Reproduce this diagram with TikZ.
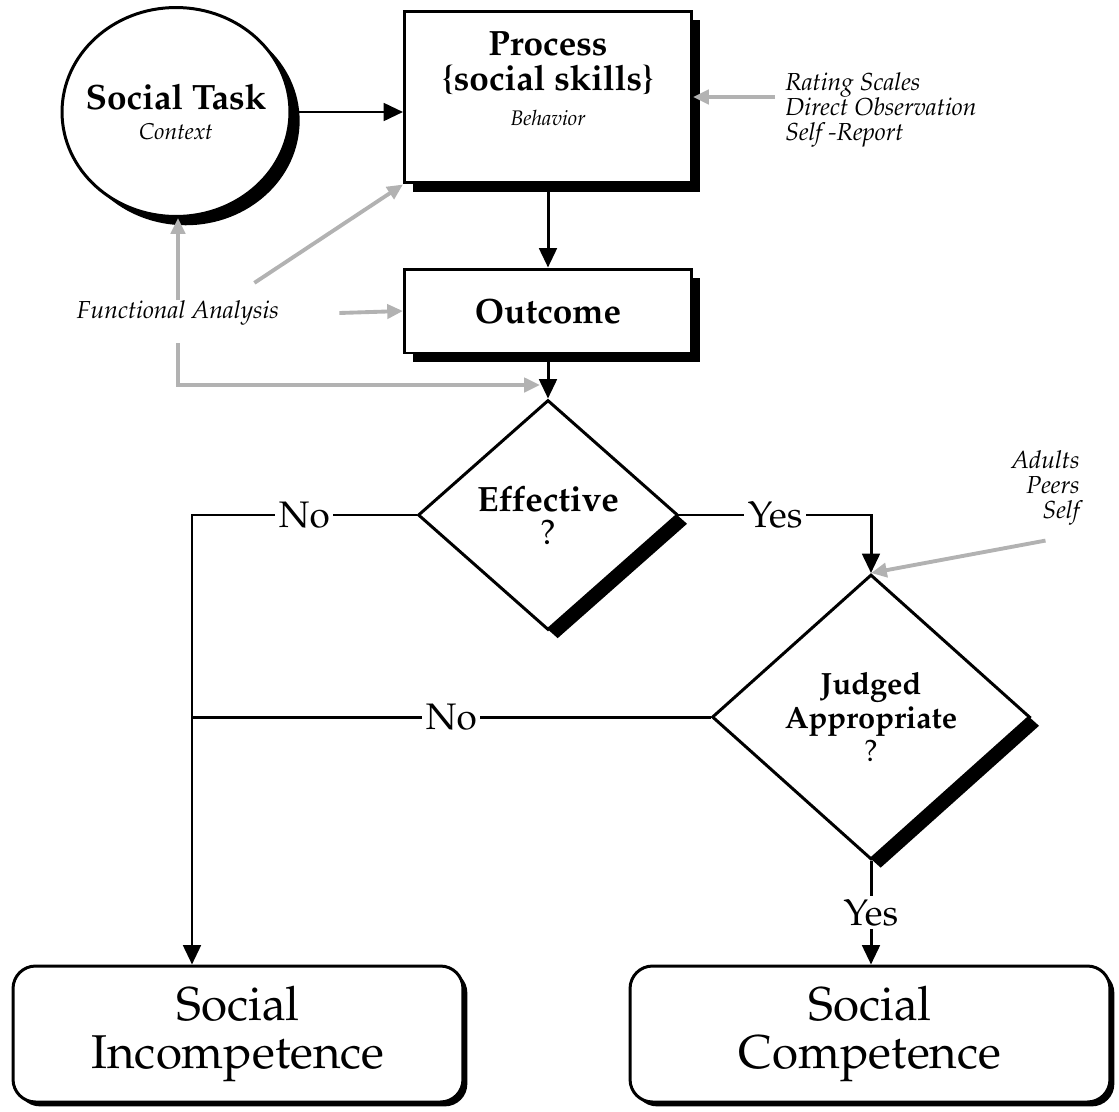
\documentclass[tikz,border=0pt]{standalone}
\usepackage[T1]{fontenc}
\renewcommand{\rmdefault}{ppl}
\usetikzlibrary{shapes.geometric,shadows,arrows.meta}

\tikzset{
	box/.style={draw, line width=1.7pt, fill=white, inner sep=0pt,
		drop shadow={shadow xshift=5pt, shadow yshift=-5pt, fill=black, opacity=1}},
	taskshape/.style={ellipse, draw, line width=1.7pt, fill=white, inner sep=0pt,
		minimum width=4.56cm, minimum height=4.18cm,
		drop shadow={shadow xshift=5.5pt, shadow yshift=-5pt, fill=black, opacity=1}},
	query/.style={diamond, draw, line width=1.7pt, fill=white, inner sep=0pt,
		drop shadow={shadow xshift=5.5pt, shadow yshift=-5pt, fill=black, opacity=1}},
	result/.style={draw, line width=1.7pt, fill=white, rounded corners=0.45cm, align=center,
		minimum height=2.72cm, font=\fontsize{27}{27}\selectfont,
		drop shadow={shadow xshift=2.5pt, shadow yshift=-2.5pt, fill=black, opacity=1}},
	method/.style={font=\fontsize{14}{14.2}\selectfont\itshape, inner sep=0pt},
	flow/.style={line width=1.7pt, -{Triangle[length=11pt,width=10pt]}},
	link/.style={line width=1.7pt},
	feed/.style={draw=gray!60, line width=2.2pt, -{Triangle[length=9pt,width=8pt]}},
	answer/.style={fill=white, inner sep=2pt, font=\fontsize{21}{21}\selectfont}
}

\begin{document}
\begin{tikzpicture}[x=0.02cm, y=-0.02cm]
	\useasboundingbox (0,0) rectangle (1119,1112);

	% boxes of the process
	\node[taskshape] (task) at (176,112) {};
	\node[align=center, inner sep=0pt, font=\fontsize{20}{17}\selectfont\bfseries] (tasktext) at (task.center)
		{Social Task\\{\fontsize{13}{13}\selectfont\mdseries\itshape Context}};
	\node[box, minimum width=5.74cm, minimum height=3.44cm] (process) at (548,97) {};
	\node[align=center, inner sep=0pt, font=\fontsize{20}{19.8}\selectfont\bfseries] (proctext) at ([yshift=0.36cm]process.center)
		{Process\\\{social skills\}\\{\fontsize{12}{12}\selectfont\mdseries\itshape Behavior}};
	\node[box, minimum width=5.74cm, minimum height=1.68cm,
		font=\fontsize{20}{24}\selectfont\bfseries] (outcome) at (548,311) {Outcome};
	\node[query, minimum width=5.2cm, minimum height=4.6cm, align=center,
		font=\fontsize{20}{18.7}\selectfont\bfseries] (effective) at (548,515) {Effective\\{\mdseries ?}};
	\node[query, minimum width=6.36cm, minimum height=5.7cm, align=center,
		font=\fontsize{17.5}{19}\selectfont\bfseries] (judged) at (871,717) {Judged\\Appropriate\\{\mdseries ?}};
	\node[result, minimum width=9.0cm] (incomp) at (238,1034) {Social\\Incompetence};
	\node[result, minimum width=9.6cm] (comp) at (870,1034) {Social\\Competence};

	% assessment methods
	\node[method, align=left, anchor=west] (measures) at (785,110) {Rating Scales\\Direct Observation\\Self -Report};
	\node[method] (funcan) at (178,313) {Functional Analysis};
	\node[method, align=right, anchor=east] (judges) at (1080,488) {Adults\\Peers\\Self};
	\coordinate (fajoin) at (540,385);
	\coordinate (nobranch) at (192,515);

	% main flow
	\draw[flow] (task.east) -- (task.east -| process.west);
	\draw[flow] (process.south) -- (outcome.north);
	\draw[flow] (outcome.south) -- (effective.north);
	\draw[flow] (effective.east) -- node[answer]{Yes} (effective.east -| judged.north) -- (judged.north);
	\draw[flow] (effective.west) -- node[answer]{No} (nobranch) -- (nobranch |- incomp.north);
	\draw[link] (judged.west) -- node[answer]{No} (judged.west -| nobranch);
	\draw[flow] (judged.south) -- node[answer]{Yes} (judged.south |- comp.north);

	% where the methods apply
	\draw[feed] ([xshift=-0.2cm]measures.west |- process.east) -- (process.east);
	\draw[feed] (funcan.north) -- (funcan.north |- task.south);
	\draw[feed] ([xshift=-0.5cm, yshift=0.35cm]funcan.north east) -- (process.south west);
	\draw[feed] ([xshift=1.2cm]funcan.east) -- (outcome.west);
	\draw[feed] ([yshift=-0.35cm]funcan.south) |- (fajoin);
	\draw[feed] ([yshift=-0.3cm]judges.south) -- (judged.north);
\end{tikzpicture}
\end{document}
